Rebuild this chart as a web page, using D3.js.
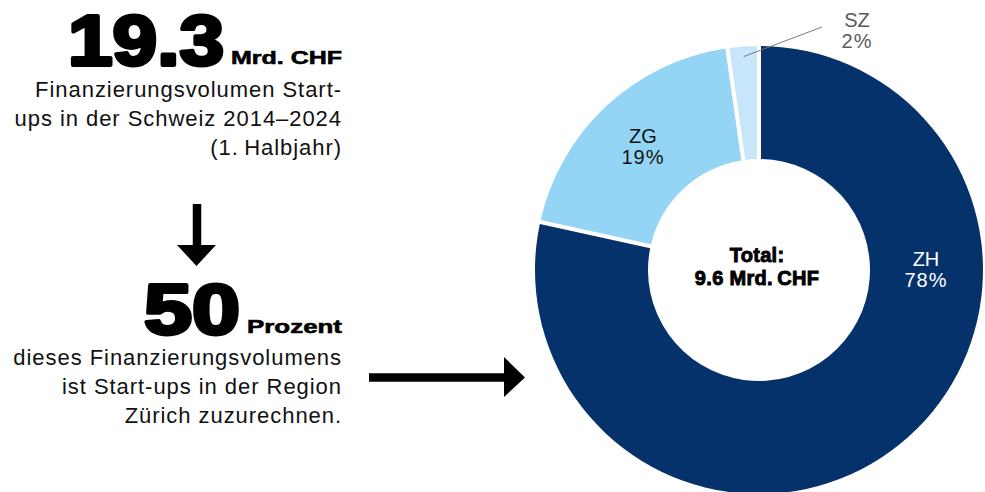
<!DOCTYPE html>
<html>
<head>
<meta charset="utf-8">
<script src="https://cdn.jsdelivr.net/npm/d3@7"></script>
<style>
  html, body { margin: 0; padding: 0; background: #fff; }
  svg { display: block; }
  text { font-family: "Liberation Sans", Arial, Helvetica, sans-serif; }
</style>
</head>
<body>
<svg id="chart" width="985" height="492"></svg>
<script>
// Regional share of start-up financing volume
const regions = ["ZH", "ZG", "SZ"];
const shares = [78, 19, 2];
const shareLabels = ["78%", "19%", "2%"];
const sliceColors = ["#05326b", "#94d5f5", "#c7e6f9"];
const labelColors = ["#ffffff", "#111111", "#5a5a5a"];

const headlineValue = "19.3";
const headlineUnit = "Mrd. CHF";
const headlineText = ["Finanzierungsvolumen Start-", "ups in der Schweiz 2014–2024", "(1.\u2009Halbjahr)"];
const shareValue = "50";
const shareUnit = "Prozent";
const shareText = ["dieses Finanzierungsvolumens", "ist Start-ups in der Region", "Zürich zuzurechnen."];
const totalText = ["Total:", "9.6 Mrd.\u2009CHF"];

const svg = d3.select("#chart");

// ---- donut ----
const cx = 759, cy = 270, rOuter = 224, rInner = 111;
const g = svg.append("g").attr("transform", `translate(${cx},${cy})`);

const pie = d3.pie().sort(null).value(d => d).padAngle(4 / Math.hypot(rOuter, rInner));
const arcs = pie(shares);
const arc = d3.arc().innerRadius(rInner).outerRadius(rOuter);

g.selectAll("path.slice")
  .data(arcs)
  .join("path")
  .attr("class", "slice")
  .attr("d", arc)
  .attr("fill", (d, i) => sliceColors[i]);

// label anchor (first baseline) for each slice, relative to the centre
const labelAnchor = {
  ZH: [167, -4],
  ZG: [-116, -127],
  SZ: [98, -243]
};

arcs.forEach((a, i) => {
  const [x, y] = labelAnchor[regions[i]];
  if (regions[i] === "SZ") {
    // small slice: label outside with a leader line
    const mid = (a.startAngle + a.endAngle) / 2;
    g.append("line")
      .attr("x1", Math.sin(mid) * 214).attr("y1", -Math.cos(mid) * 214)
      .attr("x2", 63).attr("y2", -243)
      .attr("stroke", "#7a7a7a").attr("stroke-width", 1);
  }
  const t = g.append("text")
    .attr("text-anchor", "middle")
    .attr("font-size", 20)
    .attr("fill", labelColors[i]);
  t.append("tspan").attr("x", x).attr("y", y).text(regions[i]);
  t.append("tspan").attr("x", x).attr("y", y + 21).attr("letter-spacing", 1).text(shareLabels[i]);
});

// centre total
const tt = g.append("text")
  .attr("text-anchor", "middle")
  .attr("font-size", 20)
  .attr("font-weight", 700)
  .attr("letter-spacing", 0.3)
  .attr("fill", "#000")
  .attr("stroke", "#000").attr("stroke-width", 0.9);
tt.append("tspan").attr("x", -2).attr("y", -8).text(totalText[0]);
tt.append("tspan").attr("x", -2).attr("y", 15).text(totalText[1]);

// ---- left text block ----
const right = 342;

function bigNumber(txt, unit, baseline, width, unitWidth) {
  svg.append("text")
    .attr("x", right).attr("y", baseline)
    .attr("text-anchor", "end")
    .attr("font-size", 19).attr("font-weight", 700)
    .attr("stroke", "#000").attr("stroke-width", 0.6)
    .attr("textLength", unitWidth).attr("lengthAdjust", "spacingAndGlyphs")
    .text(unit);
  svg.append("text")
    .attr("x", right - unitWidth - 7).attr("y", baseline + 1)
    .attr("text-anchor", "end")
    .attr("font-size", 71).attr("font-weight", 700)
    .attr("stroke", "#000").attr("stroke-width", 3.8).attr("stroke-linejoin", "round")
    .attr("textLength", width).attr("lengthAdjust", "spacingAndGlyphs")
    .text(txt);
}

function para(lines, firstBaseline) {
  lines.forEach((l, i) => {
    svg.append("text")
      .attr("x", right).attr("y", firstBaseline + i * 29)
      .attr("text-anchor", "end")
      .attr("font-size", 22)
      .attr("letter-spacing", 0.95)
      .attr("fill", "#111")
      .text(l);
  });
}

bigNumber(headlineValue, headlineUnit, 64, 156, 111);
para(headlineText, 97);
bigNumber(shareValue, shareUnit, 333, 96, 95);
para(shareText, 365);

// ---- arrows ----
// down arrow
svg.append("line").attr("x1", 197).attr("y1", 204).attr("x2", 197).attr("y2", 247)
  .attr("stroke", "#000").attr("stroke-width", 8.5);
svg.append("path").attr("d", "M177,245 L216,245 L196.5,266 Z").attr("fill", "#000");
// right arrow
svg.append("line").attr("x1", 369).attr("y1", 377.5).attr("x2", 506).attr("y2", 377.5)
  .attr("stroke", "#000").attr("stroke-width", 8.5);
svg.append("path").attr("d", "M504,357 L525,377.5 L504,397 Z").attr("fill", "#000");
</script>
</body>
</html>
